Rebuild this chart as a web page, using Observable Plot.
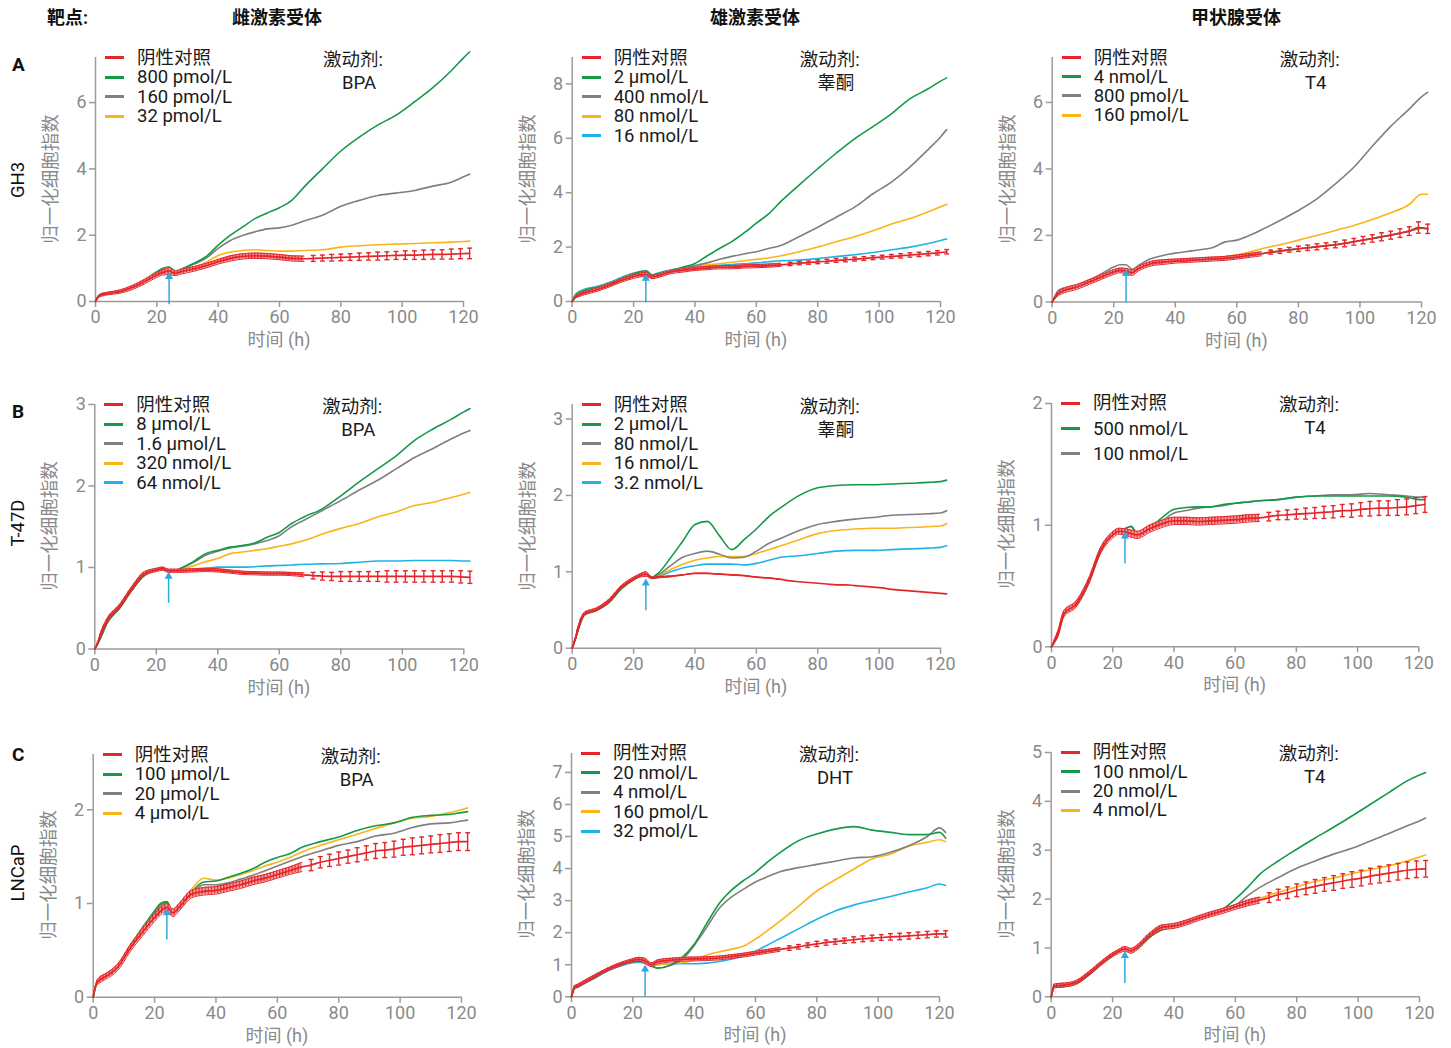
<!DOCTYPE html>
<html><head><meta charset="utf-8">
<script src="https://cdn.jsdelivr.net/npm/d3@7"></script>
<script src="https://cdn.jsdelivr.net/npm/@observablehq/plot@0.6"></script>
<style>
body{margin:0;background:#fff;}
#page{position:relative;width:1451px;height:1048px;background:#fff;font-family:Roboto,"Noto Sans CJK SC",sans-serif;overflow:hidden;}
.abs{position:absolute;white-space:nowrap;}
.plotbox{position:absolute;}
.plotbox svg{overflow:visible;}
</style></head><body><div id="page"></div>
<script>
// ---------- time grids (h) ----------
const TL = [0,1,2,4,8,12,16,20,22,24,26,28,32,36,40,44,48,52,56,60,64,68,74,80,86,92,98,104,110,116,120,122];
const TC = [0,1,2,4,8,12,16,20,22,24,26,28,32,36,40,44,48,52,56,60,64,68,71,74,77,80,83,86,89,92,95,98,101,104,107,110,113,116,119,122];

// ---------- headers ----------
const colHeaders = ["雌激素受体","雄激素受体","甲状腺受体"];
const rowLetters = ["A","B","C"];
const rowCells = ["GH3","T-47D","LNCaP"];
const yTitle = "归一化细胞指数";
const xTitle = "时间 (h)";
const ctrlLabel = "阴性对照";

// ---------- A1: GH3 / BPA ----------
const a1Labels = ["800 pmol/L","160 pmol/L","32 pmol/L"];
const a1Ctrl = [0,0.15,0.2,0.24,0.3,0.42,0.6,0.8,0.88,0.92,0.85,0.9,0.98,1.08,1.2,1.3,1.36,1.38,1.37,1.34,1.3,1.29,1.3,1.31,1.32,1.33,1.34,1.35,1.36,1.37,1.38,1.39,1.4,1.4,1.41,1.42,1.42,1.43,1.44,1.45];
const a1Err = [0,0.03,0.04,0.04,0.05,0.06,0.07,0.07,0.08,0.11,0.07,0.07,0.07,0.07,0.07,0.08,0.08,0.08,0.08,0.08,0.08,0.08,0.09,0.09,0.1,0.1,0.1,0.11,0.11,0.12,0.12,0.12,0.13,0.13,0.14,0.14,0.14,0.15,0.15,0.16];
const a1Green = [0,0.17,0.22,0.26,0.32,0.45,0.65,0.9,1.0,1.04,0.92,0.98,1.15,1.35,1.7,2.0,2.25,2.5,2.67,2.83,3.05,3.45,4.0,4.54,4.96,5.32,5.62,6.02,6.45,6.96,7.35,7.53];
const a1Gray = [0,0.17,0.22,0.26,0.31,0.44,0.63,0.88,0.98,1.02,0.9,0.96,1.12,1.3,1.6,1.84,1.99,2.1,2.19,2.22,2.3,2.43,2.6,2.87,3.05,3.2,3.27,3.35,3.48,3.6,3.76,3.84];
const a1Yellow = [0,0.16,0.21,0.25,0.3,0.43,0.62,0.86,0.95,0.99,0.88,0.93,1.03,1.18,1.39,1.49,1.54,1.56,1.54,1.52,1.52,1.54,1.56,1.64,1.68,1.71,1.73,1.75,1.77,1.79,1.81,1.82];
const a1Arrow = [-0.1,0.75];

// ---------- A2: GH3 / 睾酮 ----------
const a2Labels = ["2 μmol/L","400 nmol/L","80 nmol/L","16 nmol/L"];
const a2Ctrl = [0,0.15,0.22,0.31,0.43,0.59,0.77,0.92,0.97,1.0,0.9,0.94,1.08,1.14,1.2,1.23,1.26,1.26,1.29,1.3,1.32,1.35,1.38,1.41,1.43,1.46,1.48,1.51,1.53,1.56,1.58,1.61,1.63,1.66,1.68,1.71,1.73,1.76,1.79,1.83];
const a2Err = [0,0.03,0.05,0.06,0.06,0.06,0.06,0.07,0.07,0.08,0.06,0.06,0.06,0.06,0.06,0.06,0.06,0.06,0.06,0.06,0.06,0.06,0.06,0.06,0.06,0.07,0.07,0.07,0.07,0.07,0.07,0.07,0.07,0.07,0.08,0.08,0.08,0.08,0.08,0.08];
const a2Green = [0,0.22,0.3,0.4,0.52,0.66,0.85,1.02,1.08,1.12,0.97,1.02,1.14,1.26,1.4,1.68,1.95,2.2,2.52,2.88,3.22,3.68,4.29,4.88,5.45,5.98,6.43,6.9,7.45,7.82,8.1,8.22];
const a2Gray = [0,0.22,0.3,0.4,0.52,0.66,0.85,1.02,1.08,1.12,0.96,1.02,1.14,1.24,1.32,1.42,1.55,1.66,1.75,1.83,1.95,2.06,2.39,2.73,3.1,3.47,3.96,4.39,4.94,5.59,6.05,6.32];
const a2Yellow = [0,0.22,0.3,0.4,0.52,0.66,0.85,1.02,1.08,1.12,0.96,1.01,1.12,1.22,1.3,1.35,1.39,1.44,1.5,1.55,1.6,1.68,1.83,2.0,2.2,2.38,2.6,2.85,3.05,3.3,3.48,3.57];
const a2Blue = [0,0.25,0.35,0.45,0.55,0.7,0.88,1.05,1.1,1.14,0.98,1.05,1.16,1.22,1.28,1.3,1.33,1.36,1.39,1.42,1.46,1.5,1.52,1.58,1.65,1.72,1.8,1.9,2.0,2.13,2.24,2.3];
const a2Arrow = [-0.05,0.85];

// ---------- A3: GH3 / T4 ----------
const a3Labels = ["4 nmol/L","800 pmol/L","160 pmol/L"];
const a3Ctrl = [0,0.15,0.25,0.35,0.45,0.6,0.75,0.9,0.95,0.93,0.88,1.0,1.15,1.2,1.23,1.25,1.27,1.29,1.31,1.35,1.4,1.45,1.5,1.53,1.57,1.6,1.63,1.66,1.69,1.72,1.76,1.81,1.86,1.91,1.96,2.01,2.07,2.13,2.24,2.2];
const a3Err = [0,0.04,0.06,0.07,0.07,0.07,0.07,0.07,0.07,0.08,0.08,0.07,0.07,0.07,0.06,0.06,0.06,0.06,0.06,0.06,0.06,0.06,0.06,0.07,0.07,0.08,0.08,0.09,0.09,0.09,0.1,0.1,0.11,0.11,0.12,0.12,0.13,0.13,0.17,0.14];
const a3Green = [0,0.15,0.25,0.35,0.45,0.6,0.75,0.9,0.95,0.93,0.88,1.0,1.15,1.2,1.23,1.25,1.27,1.29,1.31,1.35,1.4,1.45,1.53,1.6,1.66,1.72,1.81,1.91,2.01,2.13,2.22,2.2];
const a3Gray = [0,0.2,0.35,0.43,0.52,0.66,0.85,1.05,1.12,1.12,0.98,1.1,1.3,1.4,1.47,1.52,1.57,1.63,1.8,1.86,2.0,2.17,2.45,2.75,3.1,3.55,4.05,4.68,5.28,5.8,6.17,6.3];
const a3Yellow = [0,0.18,0.3,0.38,0.47,0.6,0.75,0.9,0.98,0.97,0.92,1.0,1.15,1.2,1.23,1.26,1.28,1.3,1.36,1.42,1.5,1.6,1.72,1.86,2.0,2.15,2.3,2.48,2.68,2.93,3.24,3.24];
const a3Arrow = [-0.02,0.85];

// ---------- B1: T-47D / BPA ----------
const b1Labels = ["8 μmol/L","1.6 μmol/L","320 nmol/L","64 nmol/L"];
const b1Ctrl = [0,0.08,0.19,0.35,0.52,0.74,0.92,0.97,0.985,0.96,0.96,0.96,0.965,0.97,0.965,0.95,0.935,0.93,0.925,0.925,0.92,0.91,0.9,0.895,0.89,0.89,0.89,0.89,0.89,0.89,0.89,0.89,0.89,0.89,0.89,0.89,0.89,0.89,0.885,0.88];
const b1Err = [0,0.015,0.025,0.025,0.025,0.025,0.025,0.02,0.02,0.02,0.02,0.02,0.02,0.02,0.02,0.02,0.02,0.02,0.02,0.02,0.02,0.025,0.04,0.05,0.05,0.06,0.06,0.06,0.06,0.06,0.07,0.07,0.07,0.07,0.07,0.07,0.07,0.07,0.075,0.075];
const b1Green = [0,0.07,0.15,0.32,0.5,0.72,0.9,0.97,0.985,0.96,0.96,0.99,1.07,1.17,1.21,1.25,1.27,1.3,1.37,1.43,1.54,1.62,1.72,1.88,2.05,2.21,2.37,2.56,2.7,2.82,2.91,2.95];
const b1Gray = [0,0.07,0.15,0.32,0.5,0.72,0.9,0.97,0.985,0.96,0.96,0.99,1.06,1.15,1.2,1.24,1.26,1.29,1.33,1.39,1.5,1.58,1.7,1.82,1.95,2.07,2.21,2.35,2.46,2.58,2.65,2.68];
const b1Yellow = [0,0.07,0.15,0.32,0.5,0.72,0.9,0.97,0.985,0.96,0.96,0.98,1.02,1.07,1.11,1.17,1.19,1.21,1.23,1.26,1.29,1.33,1.41,1.48,1.54,1.62,1.68,1.76,1.8,1.86,1.9,1.92];
const b1Blue = [0,0.07,0.15,0.32,0.5,0.72,0.9,0.97,0.985,0.96,0.96,0.97,0.98,0.99,1.005,1.005,1.005,1.01,1.02,1.025,1.03,1.04,1.045,1.05,1.065,1.08,1.08,1.085,1.085,1.085,1.08,1.08];
const b1Arrow = [0.56,0.89];

// ---------- B2: T-47D / 睾酮 ----------
const b2Labels = ["2 μmol/L","80 nmol/L","16 nmol/L","3.2 nmol/L"];
const b2Ctrl = [0,0.12,0.27,0.45,0.51,0.62,0.8,0.91,0.95,0.97,0.92,0.93,0.94,0.96,0.98,0.98,0.97,0.96,0.95,0.93,0.92,0.9,0.88,0.87,0.86,0.85,0.84,0.83,0.83,0.82,0.81,0.8,0.79,0.77,0.76,0.75,0.74,0.73,0.72,0.71];
const b2Err = [0,0.02,0.03,0.02,0.02,0.02,0.02,0.02,0.02,0.03,0.01,0.01,0.005,0,0,0,0,0,0,0,0,0,0,0,0,0,0,0,0,0,0,0,0,0,0,0,0,0,0,0];
const b2Green = [0,0.12,0.25,0.44,0.5,0.6,0.78,0.9,0.94,0.97,0.93,0.98,1.18,1.4,1.62,1.66,1.47,1.29,1.42,1.56,1.72,1.84,2.0,2.1,2.13,2.14,2.14,2.15,2.16,2.17,2.18,2.2];
const b2Gray = [0,0.12,0.25,0.44,0.5,0.6,0.78,0.9,0.94,0.97,0.93,0.96,1.08,1.19,1.24,1.27,1.23,1.18,1.19,1.27,1.37,1.44,1.54,1.62,1.66,1.69,1.71,1.74,1.75,1.76,1.77,1.8];
const b2Yellow = [0,0.12,0.25,0.44,0.5,0.6,0.78,0.9,0.94,0.97,0.93,0.95,1.03,1.1,1.15,1.18,1.2,1.2,1.2,1.24,1.29,1.34,1.42,1.5,1.54,1.56,1.57,1.57,1.58,1.59,1.6,1.63];
const b2Blue = [0,0.12,0.25,0.44,0.5,0.6,0.78,0.9,0.94,0.97,0.93,0.94,1.0,1.05,1.08,1.1,1.1,1.1,1.09,1.11,1.15,1.19,1.21,1.24,1.27,1.28,1.28,1.29,1.3,1.31,1.32,1.34];
const b2Arrow = [0.49,0.85];

// ---------- B3: T-47D / T4 ----------
const b3Labels = ["500 nmol/L","100 nmol/L"];
const b3Ctrl = [0,0.05,0.1,0.27,0.35,0.53,0.79,0.92,0.95,0.945,0.93,0.92,0.97,1.01,1.035,1.035,1.03,1.035,1.04,1.045,1.055,1.06,1.07,1.08,1.085,1.09,1.095,1.1,1.105,1.11,1.12,1.12,1.13,1.135,1.14,1.14,1.145,1.15,1.16,1.17];
const b3Err = [0,0.015,0.025,0.025,0.025,0.025,0.025,0.025,0.025,0.025,0.03,0.03,0.03,0.03,0.03,0.03,0.03,0.03,0.03,0.03,0.03,0.03,0.035,0.035,0.04,0.04,0.045,0.045,0.05,0.05,0.05,0.055,0.055,0.06,0.06,0.06,0.065,0.065,0.065,0.065];
const b3Green = [0,0.04,0.1,0.26,0.34,0.52,0.78,0.92,0.95,0.97,0.99,0.93,0.98,1.06,1.13,1.145,1.15,1.15,1.17,1.18,1.19,1.2,1.21,1.23,1.24,1.24,1.24,1.24,1.24,1.23,1.21,1.21];
const b3Gray = [0,0.04,0.1,0.26,0.34,0.52,0.78,0.92,0.95,0.97,0.99,0.93,0.97,1.03,1.1,1.12,1.14,1.15,1.16,1.18,1.19,1.2,1.21,1.23,1.24,1.25,1.25,1.26,1.25,1.24,1.23,1.23];
const b3Arrow = [0.68,0.91];

// ---------- C1: LNCaP / BPA ----------
const c1Labels = ["100 μmol/L","20 μmol/L","4 μmol/L"];
const c1Ctrl = [0,0.14,0.18,0.22,0.32,0.52,0.69,0.85,0.92,0.96,0.9,0.96,1.1,1.13,1.14,1.17,1.2,1.24,1.27,1.31,1.35,1.39,1.41,1.44,1.46,1.48,1.5,1.52,1.54,1.56,1.57,1.58,1.6,1.61,1.62,1.63,1.64,1.65,1.66,1.66];
const c1Err = [0,0.02,0.03,0.03,0.035,0.035,0.04,0.04,0.04,0.04,0.04,0.04,0.04,0.04,0.04,0.04,0.04,0.04,0.04,0.04,0.04,0.05,0.06,0.06,0.065,0.07,0.07,0.075,0.075,0.08,0.08,0.085,0.085,0.09,0.09,0.09,0.095,0.095,0.095,0.095];
const c1Green = [0,0.14,0.18,0.24,0.34,0.55,0.74,0.92,1.0,1.02,0.9,0.95,1.12,1.23,1.24,1.28,1.32,1.37,1.44,1.49,1.53,1.6,1.66,1.71,1.78,1.83,1.86,1.92,1.94,1.95,1.97,1.98];
const c1Gray = [0,0.14,0.18,0.24,0.34,0.55,0.73,0.9,0.98,1.01,0.9,0.94,1.1,1.2,1.2,1.22,1.26,1.3,1.35,1.4,1.45,1.5,1.56,1.62,1.66,1.72,1.75,1.81,1.85,1.86,1.88,1.89];
const c1Yellow = [0,0.14,0.18,0.24,0.34,0.55,0.74,0.92,1.0,1.02,0.9,0.96,1.15,1.27,1.25,1.27,1.31,1.35,1.4,1.44,1.49,1.55,1.62,1.68,1.74,1.8,1.86,1.91,1.93,1.97,2.0,2.02];
const c1Arrow = [0.61,0.9];

// ---------- C2: LNCaP / DHT ----------
const c2Labels = ["20 nmol/L","4 nmol/L","160 pmol/L","32 pmol/L"];
const c2Ctrl = [0,0.3,0.34,0.45,0.66,0.86,1.02,1.14,1.17,1.12,1.0,1.09,1.14,1.17,1.18,1.19,1.21,1.25,1.3,1.36,1.42,1.48,1.52,1.56,1.61,1.65,1.69,1.72,1.75,1.78,1.81,1.83,1.85,1.87,1.88,1.9,1.92,1.94,1.96,1.96];
const c2Err = [0,0.05,0.05,0.05,0.05,0.05,0.05,0.05,0.06,0.08,0.06,0.06,0.06,0.06,0.06,0.06,0.06,0.06,0.06,0.06,0.06,0.06,0.07,0.07,0.07,0.08,0.08,0.08,0.08,0.09,0.09,0.09,0.09,0.1,0.1,0.1,0.1,0.1,0.1,0.1];
const c2Green = [0,0.28,0.32,0.45,0.65,0.88,1.0,1.1,1.12,1.08,0.97,0.89,0.98,1.22,1.64,2.27,2.89,3.31,3.62,3.88,4.21,4.5,4.87,5.08,5.23,5.31,5.2,5.13,5.06,5.06,5.13,4.95];
const c2Gray = [0,0.28,0.32,0.45,0.65,0.88,1.0,1.1,1.12,1.08,0.97,0.9,0.97,1.15,1.6,2.15,2.74,3.1,3.35,3.58,3.75,3.9,4.03,4.13,4.23,4.33,4.37,4.51,4.71,5.0,5.27,5.13];
const c2Yellow = [0,0.28,0.32,0.45,0.65,0.88,1.0,1.1,1.12,1.08,0.97,1.0,1.03,1.06,1.15,1.3,1.4,1.48,1.58,1.8,2.07,2.36,2.82,3.3,3.65,3.98,4.3,4.45,4.7,4.82,4.9,4.84];
const c2Blue = [0,0.26,0.3,0.4,0.6,0.82,0.96,1.06,1.08,1.04,0.97,1.0,1.03,1.03,1.03,1.05,1.1,1.17,1.28,1.42,1.62,1.82,2.12,2.42,2.68,2.86,3.0,3.13,3.27,3.4,3.52,3.47];
const c2Arrow = [0,0.86];

// ---------- C3: LNCaP / T4 ----------
const c3Labels = ["100 nmol/L","20 nmol/L","4 nmol/L"];
const c3Ctrl = [0,0.22,0.23,0.24,0.29,0.46,0.67,0.86,0.93,0.98,0.94,1.01,1.25,1.42,1.45,1.52,1.61,1.69,1.76,1.84,1.92,1.98,2.03,2.09,2.13,2.18,2.22,2.26,2.3,2.33,2.37,2.4,2.43,2.47,2.5,2.53,2.56,2.59,2.61,2.62];
const c3Err = [0,0.04,0.04,0.04,0.04,0.04,0.04,0.04,0.04,0.05,0.05,0.05,0.05,0.05,0.05,0.05,0.05,0.05,0.05,0.05,0.06,0.06,0.1,0.11,0.12,0.13,0.13,0.14,0.14,0.15,0.15,0.16,0.16,0.16,0.17,0.17,0.17,0.17,0.17,0.17];
const c3Green = [0,0.2,0.2,0.21,0.27,0.44,0.66,0.85,0.93,0.99,0.94,1.0,1.22,1.37,1.44,1.52,1.6,1.68,1.8,2.0,2.24,2.51,2.78,3.02,3.25,3.47,3.7,3.94,4.18,4.42,4.54,4.59];
const c3Gray = [0,0.2,0.2,0.21,0.27,0.44,0.66,0.85,0.93,0.99,0.94,1.0,1.22,1.37,1.44,1.52,1.6,1.68,1.76,1.87,2.07,2.24,2.44,2.63,2.78,2.92,3.04,3.19,3.34,3.5,3.6,3.66];
const c3Yellow = [0,0.2,0.21,0.22,0.28,0.45,0.67,0.86,0.94,0.99,0.95,1.02,1.24,1.39,1.45,1.53,1.61,1.69,1.77,1.86,1.94,2.02,2.14,2.25,2.36,2.43,2.52,2.6,2.68,2.78,2.86,2.9];
const c3Arrow = [0.27,0.84];

// ---------- styles ----------
const COL = {red:"#e4262a", green:"#139a48", gray:"#7f7f7f", yellow:"#fbb417", blue:"#1db3e9"};
const HATCH_BG = "#f4a3a3";
const ARROW = "#2fa8de";
const AXIS = "#9b9b9b";
const TICK_TXT = "#8a8a8a";
const FONT = 'Roboto, "Noto Sans CJK SC", sans-serif';

// layout: [x0, x120, yTop, y0, colLeft, width]
const panels = [
  {geo:[95,463,57,301,0,480], top:7.36, yt:[0,2,4,6], ctrl:a1Ctrl, err:a1Err, ser:[["green",a1Green],["gray",a1Gray],["yellow",a1Yellow]], labels:a1Labels, ag:"BPA", arrow:a1Arrow, gap:19.5},
  {geo:[571.7,940,57,301,480,480], top:8.97, yt:[0,2,4,6,8], ctrl:a2Ctrl, err:a2Err, ser:[["green",a2Green],["gray",a2Gray],["yellow",a2Yellow],["blue",a2Blue]], labels:a2Labels, ag:"睾酮", arrow:a2Arrow, gap:19.5},
  {geo:[1051.7,1421,57,301.5,960,491], top:7.35, yt:[0,2,4,6], ctrl:a3Ctrl, err:a3Err, ser:[["green",a3Green],["gray",a3Gray],["yellow",a3Yellow]], labels:a3Labels, ag:"T4", arrow:a3Arrow, gap:19.2},
  {geo:[94.3,463.3,404,648.5,0,480], top:3, yt:[0,1,2,3], ctrl:b1Ctrl, err:b1Err, ser:[["green",b1Green],["gray",b1Gray],["yellow",b1Yellow],["blue",b1Blue]], labels:b1Labels, ag:"BPA", arrow:b1Arrow, gap:19.5},
  {geo:[571.7,940,404,647.7,480,480], top:3.19, yt:[0,1,2,3], ctrl:b2Ctrl, err:b2Err, ser:[["green",b2Green],["gray",b2Gray],["yellow",b2Yellow],["blue",b2Blue]], labels:b2Labels, ag:"睾酮", arrow:b2Arrow, gap:19.6},
  {geo:[1051,1418.3,402.7,646,960,491], top:2, yt:[0,1,2], ctrl:b3Ctrl, err:b3Err, ser:[["green",b3Green],["gray",b3Gray]], labels:b3Labels, ag:"T4", arrow:b3Arrow, gap:25.3},
  {geo:[92.7,461,754,996.7,0,480], top:2.59, yt:[0,1,2], ctrl:c1Ctrl, err:c1Err, ser:[["green",c1Green],["gray",c1Gray],["yellow",c1Yellow]], labels:c1Labels, ag:"BPA", arrow:c1Arrow, gap:19.5},
  {geo:[571,939,752.7,996,480,480], top:7.59, yt:[0,1,2,3,4,5,6,7], ctrl:c2Ctrl, err:c2Err, ser:[["green",c2Green],["gray",c2Gray],["yellow",c2Yellow],["blue",c2Blue]], labels:c2Labels, ag:"DHT", arrow:c2Arrow, gap:19.5},
  {geo:[1050.7,1419,751.7,996,960,491], top:5, yt:[0,1,2,3,4,5], ctrl:c3Ctrl, err:c3Err, ser:[["green",c3Green],["gray",c3Gray],["yellow",c3Yellow]], labels:c3Labels, ag:"T4", arrow:c3Arrow, gap:19.4}
];

const page = document.getElementById("page");
function addText(txt, css) {
  const d = document.createElement("div");
  d.className = "abs";
  d.textContent = txt;
  Object.assign(d.style, css);
  page.appendChild(d);
  return d;
}

// headers
addText("靶点:", {left:"47px", top:"6px", fontSize:"18px", fontWeight:"bold", color:"#111", lineHeight:"24px"});
[277, 755, 1236].forEach((cx, i) => addText(colHeaders[i], {left:(cx-60)+"px", width:"120px", textAlign:"center", top:"6px", fontSize:"18px", fontWeight:"bold", color:"#111", lineHeight:"24px"}));
[65, 412, 755].forEach((cy, i) => addText(rowLetters[i], {left:"12px", top:(cy-12)+"px", fontSize:"19px", fontWeight:"bold", color:"#111", lineHeight:"24px"}));
[180, 523, 873].forEach((cy, i) => addText(rowCells[i], {left:"-32px", width:"100px", textAlign:"center", top:(cy-12)+"px", fontSize:"18.5px", color:"#111", lineHeight:"24px", transform:"rotate(-90deg)"}));

const SVGNS = "http://www.w3.org/2000/svg";
function hatchDefs(id) {
  return () => {
    const defs = document.createElementNS(SVGNS, "defs");
    const pat = document.createElementNS(SVGNS, "pattern");
    pat.setAttribute("id", id);
    pat.setAttribute("patternUnits", "userSpaceOnUse");
    pat.setAttribute("width", "3.1");
    pat.setAttribute("height", "20");
    const bg = document.createElementNS(SVGNS, "rect");
    bg.setAttribute("width", "3.1"); bg.setAttribute("height", "20"); bg.setAttribute("fill", HATCH_BG);
    const ln = document.createElementNS(SVGNS, "rect");
    ln.setAttribute("width", "1.2"); ln.setAttribute("height", "20"); ln.setAttribute("fill", COL.red);
    pat.appendChild(bg); pat.appendChild(ln);
    defs.appendChild(pat);
    return defs;
  };
}

panels.forEach((p, pi) => {
  const [x0, x120, yTop, y0, colLeft, W] = p.geo;
  const mt = 22, mb = 34;
  const h = y0 - yTop;
  const ml = x0 - colLeft, mr = W - (x120 - colLeft);
  const lines = [];
  const order = p.ser.map((s, k) => k).reverse();
  order.forEach(k => {
    const [c, vals] = p.ser[k];
    vals.forEach((v, j) => { if (j < TL.length) lines.push({t: TL[j], v, c, k}); });
  });
  const ctrl = p.ctrl.map((v, j) => ({t: TC[j], v, e: p.err[j] || 0})).filter(d => d.t !== undefined);
  const dense = ctrl.filter(d => d.t <= 68);
  const sparse = ctrl.filter(d => d.t > 68 && d.e > 0);
  const arrowD = [{x: 24, y1: p.arrow[0], y2: p.arrow[1]}];
  const hid = "hatch" + pi;

  const marks = [
    hatchDefs(hid),
    Plot.ruleY([0], {stroke: AXIS, strokeWidth: 1.5}),
    Plot.ruleX([0], {stroke: AXIS, strokeWidth: 1.5}),
    Plot.axisX({ticks: [0,20,40,60,80,100,120], tickSize: 6, tickPadding: 3, label: null, fontSize: 18, stroke: AXIS, strokeWidth: 1.5}),
    Plot.axisY({ticks: p.yt, tickSize: 6, tickPadding: 3, label: null, fontSize: 18, stroke: AXIS, strokeWidth: 1.5, tickFormat: d3.format("d")})
  ];
  order.forEach(k => {
    const c = p.ser[k][0];
    marks.push(Plot.line(lines.filter(d => d.k === k), {x: "t", y: "v", stroke: COL[c], strokeWidth: 1.6, curve: "monotone-x"}));
  });
  marks.push(
    Plot.areaY(dense, {x: "t", y1: d => d.v - d.e, y2: d => d.v + d.e, fill: `url(#${hid})`, curve: "monotone-x"}),
    Plot.line(dense, {x: "t", y: d => d.v + d.e, stroke: COL.red, strokeWidth: 1, curve: "monotone-x"}),
    Plot.line(dense, {x: "t", y: d => d.v - d.e, stroke: COL.red, strokeWidth: 1, curve: "monotone-x"}),
    Plot.line(ctrl, {x: "t", y: "v", stroke: COL.red, strokeWidth: 1.7, curve: "monotone-x"}),
    Plot.ruleX(sparse, {x: "t", y1: d => d.v - d.e, y2: d => d.v + d.e, stroke: COL.red, strokeWidth: 1.4}),
    Plot.link(sparse, {x1: d => d.t - 0.8, x2: d => d.t + 0.8, y1: d => d.v + d.e, y2: d => d.v + d.e, stroke: COL.red, strokeWidth: 1.4}),
    Plot.link(sparse, {x1: d => d.t - 0.8, x2: d => d.t + 0.8, y1: d => d.v - d.e, y2: d => d.v - d.e, stroke: COL.red, strokeWidth: 1.4}),
    Plot.ruleX(arrowD, {x: "x", y1: "y1", y2: "y2", stroke: ARROW, strokeWidth: 1.5}),
    Plot.dot(arrowD, {x: "x", y: "y2", symbol: "triangle", r: 3, fill: ARROW, stroke: "none"})
  );

  const chart = Plot.plot({
    width: W, height: mt + h + mb,
    marginLeft: ml, marginRight: mr, marginTop: mt, marginBottom: mb,
    x: {domain: [0, 120]},
    y: {domain: [0, p.top]},
    style: {fontFamily: FONT, fontSize: "18px", color: TICK_TXT, background: "transparent", overflow: "visible"},
    marks
  });
  const box = document.createElement("div");
  box.className = "plotbox";
  box.style.left = colLeft + "px";
  box.style.top = (yTop - mt) + "px";
  box.style.width = W + "px";
  box.appendChild(chart);
  page.appendChild(box);

  // axis titles
  const cx = (x0 + x120) / 2;
  addText(xTitle, {left: (cx - 60) + "px", width: "120px", textAlign: "center", top: (y0 + 27) + "px", fontSize: "18px", color: TICK_TXT, lineHeight: "24px"});
  const cy = (yTop + y0) / 2;
  addText(yTitle, {left: (x0 - 44 - 80) + "px", width: "160px", textAlign: "center", top: (cy - 12) + "px", fontSize: "18.5px", color: TICK_TXT, lineHeight: "24px", transform: "rotate(-90deg)"});

  // legend
  const names = [ctrlLabel].concat(p.labels);
  const cols = ["red"].concat(p.ser.map(s => s[0]));
  const firstY = yTop + 0.5;
  names.forEach((n, i) => {
    const yy = firstY + i * p.gap;
    const sw = document.createElement("div");
    sw.className = "abs";
    Object.assign(sw.style, {left: (x0 + 10) + "px", top: (yy - 1.5) + "px", width: "19px", height: "3px", background: COL[cols[i]]});
    page.appendChild(sw);
    addText(n, {left: (x0 + 42) + "px", top: (yy - 12) + "px", fontSize: "18.5px", color: "#1a1a1a", lineHeight: "24px"});
  });
  // agonist annotation
  addText("激动剂:", {left: (x0 + 228) + "px", top: (yTop + 2.5 - 12) + "px", fontSize: "18.5px", color: "#1a1a1a", lineHeight: "24px"});
  addText(p.ag, {left: (x0 + 264 - 50) + "px", width: "100px", textAlign: "center", top: (yTop + 25.5 - 12) + "px", fontSize: "18.5px", color: "#1a1a1a", lineHeight: "24px"});
});
</script></body></html>
